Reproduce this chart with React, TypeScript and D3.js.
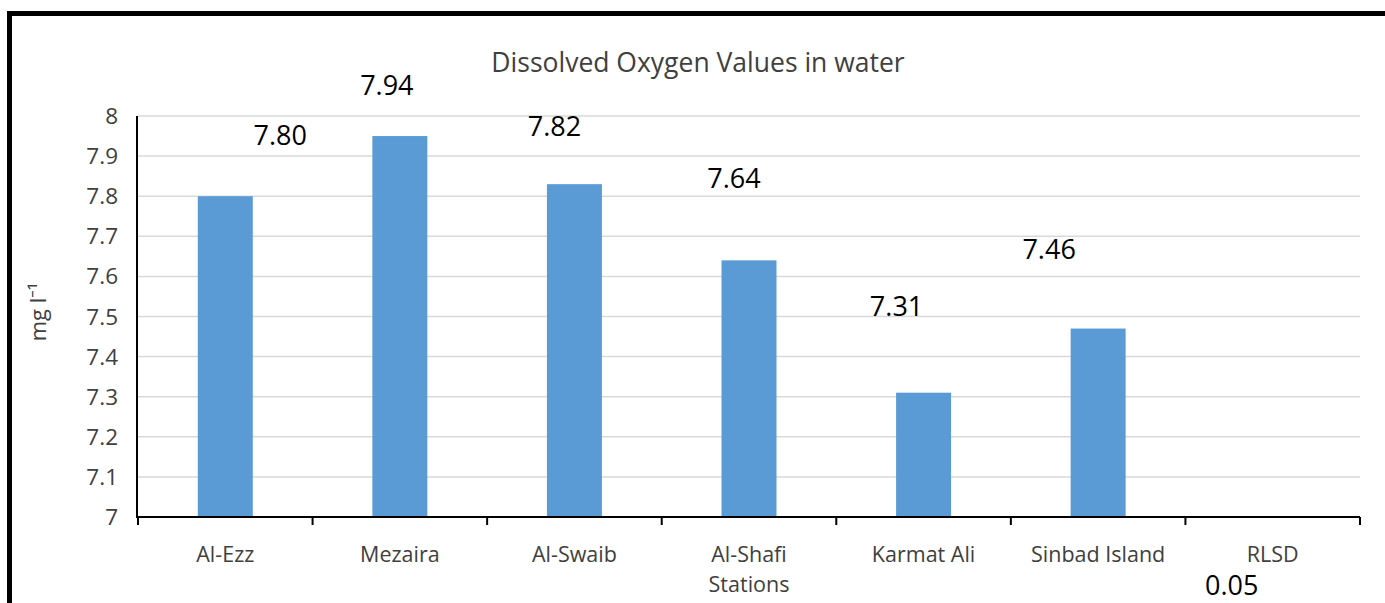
import React from "react";
import * as d3 from "d3";

const categories = ["Al-Ezz", "Mezaira", "Al-Swaib", "Al-Shafi", "Karmat Ali", "Sinbad Island", "RLSD"];
const barValues = [7.8, 7.95, 7.83, 7.64, 7.31, 7.47];
const labelTexts = ["7.80", "7.94", "7.82", "7.64", "7.31", "7.46"];
const rlsdLabel = "0.05";
const yTicks = [7, 7.1, 7.2, 7.3, 7.4, 7.5, 7.6, 7.7, 7.8, 7.9, 8];
// label offsets (px) relative to bar centre / bar top, as hand-placed in the original
const labelDx = [55, -13, -20, -15, -27, -49];
const labelDy = [-51, -41, -48, -72, -77, -70];

const W = 1385;
const H = 603;
const left = 138;
const right = 1360;
const top = 116;
const bottom = 517;
const font = "'Open Sans', 'Noto Sans', sans-serif";

export default function App() {
  const x = d3.scaleBand<string>().domain(categories).range([left, right]).padding(0);
  const y = d3.scaleLinear().domain([7, 8]).range([bottom, top]);
  const bw = x.bandwidth() * 0.315;
  const boundaries = d3.range(categories.length + 1).map((i) => left + i * x.step());
  const rlsdCx = (x("RLSD") as number) + x.bandwidth() / 2;

  return (
    <svg width={W} height={H} style={{ position: "absolute", left: 0, top: 0, background: "#fff" }} fontFamily={font}>
      <rect x={0} y={0} width={W} height={H} fill="#fff" />
      <rect x={9.5} y={13.5} width={W + 20} height={H + 20} fill="none" stroke="#000" strokeWidth={5} />
      <text x={698} y={72} textAnchor="middle" fontSize={26.5} fill="#404040">
        Dissolved Oxygen Values in water
      </text>
      {yTicks.filter((t) => t > 7).map((t) => (
        <line key={t} x1={left} x2={right} y1={y(t)} y2={y(t)} stroke="#d9d9d9" strokeWidth={1.5} />
      ))}
      {yTicks.map((t) => (
        <text key={"l" + t} x={118} y={y(t) + 8} textAnchor="end" fontSize={22.5} fill="#404040">
          {d3.format("")(+t.toFixed(1))}
        </text>
      ))}
      {barValues.map((v, i) => {
        const cx = (x(categories[i]) as number) + x.bandwidth() / 2;
        return (
          <rect key={i} x={cx - bw / 2} y={y(v)} width={bw} height={y(7) - y(v)} fill="#5b9bd5" />
        );
      })}
      <line x1={left - 1} x2={left - 1} y1={top} y2={bottom + 1} stroke="#000" strokeWidth={2} />
      <line x1={left - 2} x2={right} y1={bottom} y2={bottom} stroke="#000" strokeWidth={2} />
      {boundaries.map((b, i) => (
        <line key={i} x1={b} x2={b} y1={bottom} y2={bottom + 8} stroke="#000" strokeWidth={2} />
      ))}
      {categories.map((c) => (
        <text key={c} x={(x(c) as number) + x.bandwidth() / 2} y={562} textAnchor="middle" fontSize={21.5} fill="#404040">
          {c}
        </text>
      ))}
      <text x={(left + right) / 2} y={592} textAnchor="middle" fontSize={21.5} fill="#404040">
        Stations
      </text>
      {barValues.map((v, i) => {
        const cx = (x(categories[i]) as number) + x.bandwidth() / 2;
        return (
          <text key={"d" + i} x={cx + labelDx[i]} y={y(v) + labelDy[i]} textAnchor="middle" fontSize={27} fill="#000">
            {labelTexts[i]}
          </text>
        );
      })}
      <text x={rlsdCx - 41} y={595} textAnchor="middle" fontSize={27} fill="#000">
        {rlsdLabel}
      </text>
      <text transform={`translate(46,${312}) rotate(-90)`} textAnchor="middle" fontSize={22} fill="#404040">
        mg l⁻¹
      </text>
    </svg>
  );
}
